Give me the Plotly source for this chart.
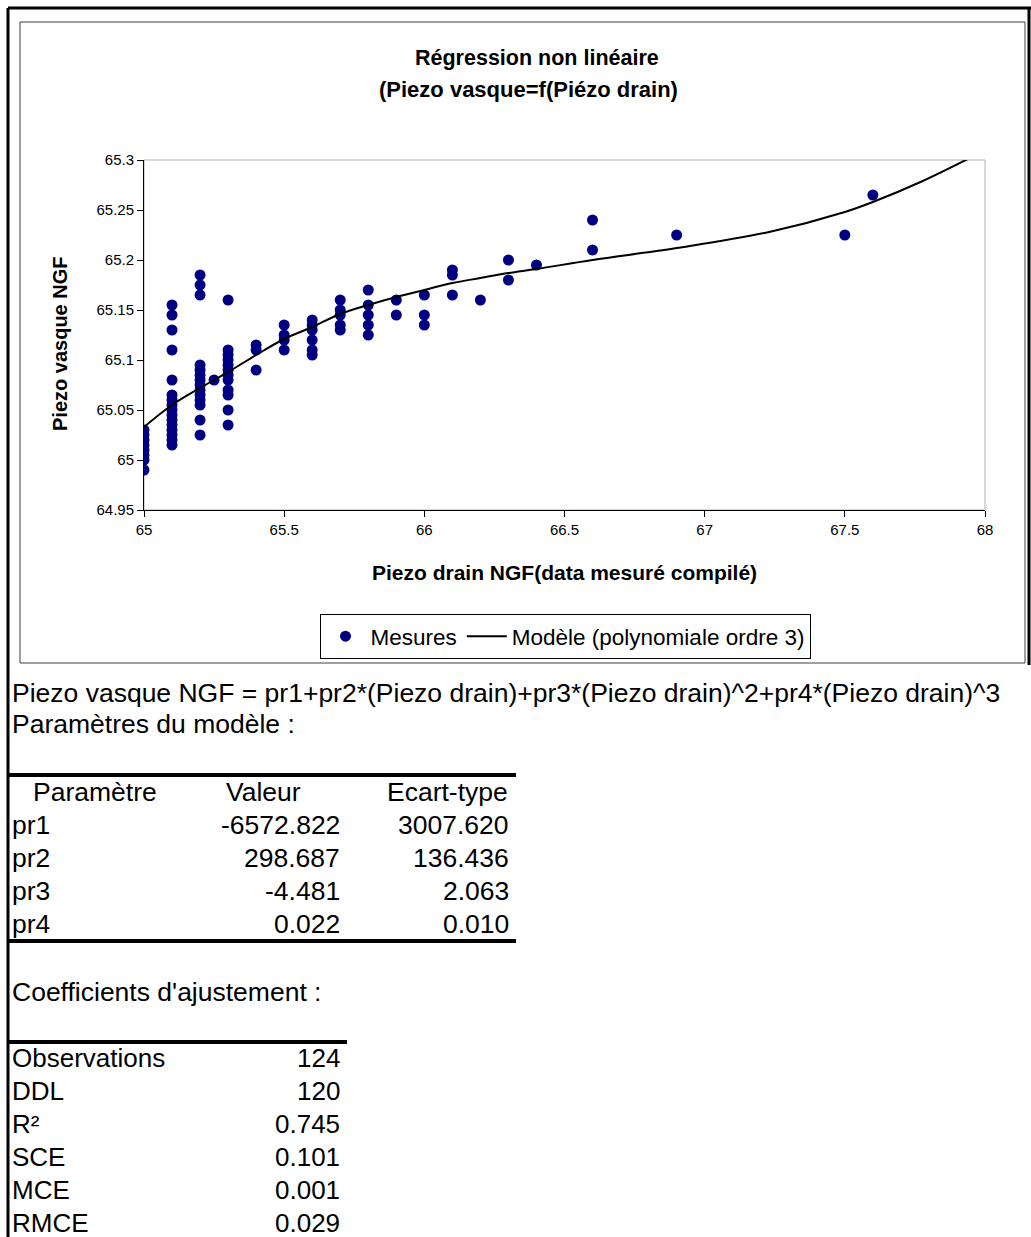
import plotly.graph_objects as go

W, H = 1031, 1237
FONT = "Arial, Liberation Sans, sans-serif"
NAVY = "#000080"

drain = ([65.0] * 8 + [65.1] * 16 + [65.2] * 14 + [65.25] + [65.3] * 12
         + [65.4] * 3 + [65.5] * 4 + [65.6] * 6 + [65.7] * 5 + [65.8] * 5
         + [65.9] * 2 + [66.0] * 3 + [66.1] * 3 + [66.2] + [66.3] * 2
         + [66.4] + [66.6] * 2 + [66.9] + [67.5] + [67.6])
vasque = [65.03, 65.025, 65.02, 65.015, 65.01, 65.005, 65.0, 64.99,
          65.155, 65.145, 65.13, 65.11, 65.08, 65.065, 65.06, 65.055,
          65.05, 65.045, 65.04, 65.035, 65.03, 65.025, 65.02, 65.015,
          65.185, 65.175, 65.165, 65.095, 65.09, 65.085, 65.08, 65.075,
          65.07, 65.065, 65.06, 65.055, 65.04, 65.025,
          65.08,
          65.16, 65.11, 65.105, 65.1, 65.095, 65.09, 65.085, 65.08, 65.07,
          65.065, 65.05, 65.035,
          65.115, 65.11, 65.09,
          65.135, 65.125, 65.12, 65.11,
          65.14, 65.135, 65.13, 65.12, 65.11, 65.105,
          65.16, 65.15, 65.145, 65.135, 65.13,
          65.17, 65.155, 65.145, 65.135, 65.125,
          65.16, 65.145,
          65.165, 65.145, 65.135,
          65.19, 65.185, 65.165,
          65.16,
          65.2, 65.18,
          65.195,
          65.24, 65.21,
          65.225,
          65.225,
          65.265]

# fitted curve
model_x = [65.0, 65.1, 65.2, 65.3, 65.4, 65.5, 65.6, 65.7, 65.8, 65.9, 66.0,
           66.1, 66.2, 66.3, 66.4, 66.6, 66.9, 67.23, 67.5, 67.6, 67.77, 67.96]
model_y = [65.033, 65.055, 65.072, 65.088, 65.105, 65.121, 65.133, 65.146,
           65.155, 65.163, 65.17, 65.177, 65.182, 65.187, 65.191, 65.2,
           65.212, 65.228, 65.248, 65.258, 65.278, 65.304]

formula = "Piezo vasque NGF = pr1+pr2*(Piezo drain)+pr3*(Piezo drain)^2+pr4*(Piezo drain)^3"
param_names = ["pr1", "pr2", "pr3", "pr4"]
param_values = ["-6572.822", "298.687", "-4.481", "0.022"]
param_sd = ["3007.620", "136.436", "2.063", "0.010"]
fit_names = ["Observations", "DDL", "R²", "SCE", "MCE", "RMCE"]
fit_values = ["124", "120", "0.745", "0.101", "0.001", "0.029"]


def px(x):
    return x / W


def py(y):
    return 1 - y / H


fig = go.Figure()
fig.add_trace(go.Scatter(x=drain, y=vasque, mode="markers", name="Mesures",
                         marker=dict(color=NAVY, size=11, line_width=0)))
fig.add_trace(go.Scatter(x=model_x, y=model_y, mode="lines",
                         name="Modèle (polynomiale ordre 3)",
                         line=dict(color="black", width=2, shape="spline")))

shapes = []
# plot area frame (grey), under the axes
shapes.append(dict(type="rect", xref="x domain", yref="y domain", x0=0, x1=1, y0=0, y1=1,
                   line=dict(color="#b0b0b0", width=1), layer="below"))
# chart box
shapes.append(dict(type="rect", xref="paper", yref="paper", x0=px(20), x1=px(1025),
                   y0=py(663), y1=py(22), line=dict(color="#404040", width=1)))
# sheet borders
for x0, y0, x1, y1 in [(8, 8, 1031, 8), (8, 8, 8, 1237), (1029, 8, 1029, 665)]:
    shapes.append(dict(type="line", xref="paper", yref="paper", x0=px(x0), x1=px(x1),
                       y0=py(y0), y1=py(y1), line=dict(color="black", width=3)))
# table rules
for y, x1 in [(775, 516), (941, 516), (1042, 347)]:
    shapes.append(dict(type="line", xref="paper", yref="paper", x0=px(8), x1=px(x1),
                       y0=py(y), y1=py(y), line=dict(color="black", width=4)))

ann = []


def text(x, y, s, size=26.5, anchor="left", bold=False, angle=0):
    ann.append(dict(xref="paper", yref="paper", x=px(x), y=py(y), text=s,
                    xanchor=anchor, yanchor="middle", showarrow=False, textangle=angle,
                    font=dict(family=FONT, size=size, color="black",
                              weight="bold" if bold else "normal")))


text(537, 58, "Régression non linéaire", 21.5, "center", True)
text(528, 89, "(Piezo vasque=f(Piézo drain)", 22, "center", True)
text(60, 344, "Piezo vasque NGF", 20, "center", True, -90)
text(564, 572, "Piezo drain NGF(data mesuré compilé)", 21, "center", True)

text(10, 693, formula)
text(10, 724, "Paramètres du modèle :")
text(95, 792, "Paramètre", anchor="center")
text(263, 792, "Valeur", anchor="center")
text(447, 792, "Ecart-type", anchor="center")
for i in range(len(param_names)):
    y = 825 + i * 33
    text(10, y, param_names[i])
    text(342, y, param_values[i], anchor="right")
    text(511, y, param_sd[i], anchor="right")
text(10, 992, "Coefficients d'ajustement :")
for i in range(len(fit_names)):
    y = 1058 + i * 33
    text(10, y, fit_names[i], size=26)
    text(342, y, fit_values[i], size=26, anchor="right")

axis_common = dict(showgrid=False, zeroline=False, showline=True, linecolor="black",
                   linewidth=1, ticks="outside", ticklen=6, tickcolor="black",
                   tickfont=dict(family=FONT, size=15, color="black"))

fig.update_layout(
    width=W, height=H, margin=dict(l=0, r=0, t=0, b=0, autoexpand=False),
    paper_bgcolor="white", plot_bgcolor="white",
    xaxis=dict(domain=[px(144), px(985)], range=[65, 68], dtick=0.5, tick0=65,
               **axis_common),
    yaxis=dict(domain=[py(510), py(160)], range=[64.95, 65.3], dtick=0.05, tick0=64.95,
               **axis_common),
    shapes=shapes, annotations=ann,
    legend=dict(orientation="h", x=px(565), xanchor="center", y=py(614), yanchor="top",
                bordercolor="black", borderwidth=1, bgcolor="white", itemwidth=40,
                font=dict(family=FONT, size=22.5, color="black")),
)

fig.write_html("out.html", config={"displayModeBar": False},
               post_script="document.body.style.margin='0px';")
